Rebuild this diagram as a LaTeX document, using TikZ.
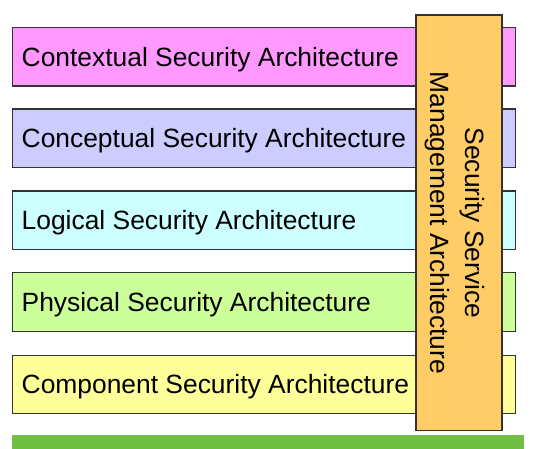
\documentclass[tikz,border=0pt]{standalone}
\usepackage{fontspec}
\setmainfont{Liberation Sans}
\usetikzlibrary{calc}
\definecolor{cpink}{HTML}{FF99FF}
\definecolor{clav}{HTML}{CCCCFF}
\definecolor{ccyan}{HTML}{CCFFFF}
\definecolor{cgreen}{HTML}{CCFF99}
\definecolor{cyellow}{HTML}{FFFF99}
\definecolor{corange}{HTML}{FFCC66}
\definecolor{cbase}{HTML}{70BF42}
\definecolor{cedge}{HTML}{333333}
\begin{document}
\begin{tikzpicture}[x=1pt,y=-1pt,
  bar/.style={draw=cedge, line width=1.2pt, inner sep=0pt, minimum width=503.4pt, minimum height=58.7pt},
  lbl/.style={anchor=base west, inner sep=0pt, font=\fontsize{26.4}{31}\selectfont, text=black},
  vlbl/.style={anchor=base, inner sep=0pt, rotate=-90, font=\fontsize{26.4}{31}\selectfont, text=black}]
\useasboundingbox (0,0) rectangle (536,448);
\begin{scope}
\clip (0,0) rectangle (536,448);
\fill[cbase] (12.3,434.7) rectangle (524,452);
\end{scope}
\node[bar, fill=cpink]   (ctx) at (264,56.7)  {};
\node[bar, fill=clav]    (cpt) at (264,138.3) {};
\node[bar, fill=ccyan]   (log) at (264,220.3) {};
\node[bar, fill=cgreen]  (phy) at (264,302.2) {};
\node[bar, fill=cyellow] (cmp) at (264,384.5) {};
\node[lbl] (ctxl) at ($(ctx.west)+(9.8,9.4)$) {Contextual Security Architecture};
\node[lbl] (cptl) at ($(cpt.west)+(9.8,9.4)$) {Conceptual Security Architecture};
\node[lbl] (logl) at ($(log.west)+(9.8,9.4)$) {Logical Security Architecture};
\node[lbl] (phyl) at ($(phy.west)+(9.8,9.4)$) {Physical Security Architecture};
\node[lbl] (cmpl) at ($(cmp.west)+(9.8,9.4)$) {Component Security Architecture};
\node[draw=cedge, line width=1.2pt, fill=corange, inner sep=0pt, minimum width=86pt, minimum height=415.7pt] (ssm) at (459,222.9) {};
\node[vlbl] (ssm1) at (465.5,223) {Security Service};
\node[vlbl] (ssm2) at (430.5,223) {Management Architecture};
\end{tikzpicture}
\end{document}
